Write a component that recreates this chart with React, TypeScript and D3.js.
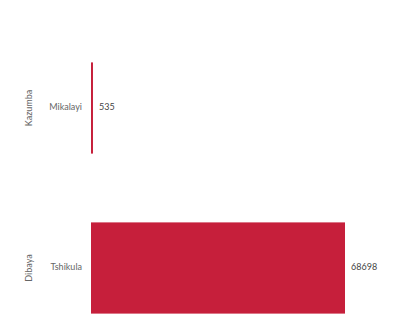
import React from "react";
import * as d3 from "d3";

const groups = ["Kazumba", "Dibaya"];
const subLabels = ["Mikalayi", "Tshikula"];
const values = [535, 68698];

const width = 401;
const height = 315;
const barColor = "#c61f3b";
const textColor = "#666";
const font = "Lato, 'Open Sans', sans-serif";

const App = () => {
  const y = d3
    .scaleBand<string>()
    .domain(groups)
    .range([28, 348])
    .paddingInner(0.43)
    .paddingOuter(0.215);

  const x = d3
    .scaleLinear()
    .domain([0, d3.max(values) as number])
    .range([91, 345]);

  return (
    <svg
      width={width}
      height={height}
      style={{ position: "absolute", left: 0, top: 0, background: "#fff" }}
    >
      {groups.map((g, i) => {
        const y0 = y(g) as number;
        const cy = y0 + y.bandwidth() / 2;
        return (
          <g key={g}>
            <rect
              x={x(0)}
              y={y0}
              width={Math.max(x(values[i]) - x(0), 1.5)}
              height={y.bandwidth()}
              fill={barColor}
            />
            <text
              transform={`translate(30,${cy}) rotate(-90)`}
              textAnchor="middle"
              dominantBaseline="middle"
              fontFamily={font}
              fontSize={9}
              fill={textColor}
            >
              {g}
            </text>
            <text
              x={82}
              y={cy}
              textAnchor="end"
              dominantBaseline="middle"
              fontFamily={font}
              fontSize={9}
              fill={textColor}
            >
              {subLabels[i]}
            </text>
            <text
              x={Math.max(x(values[i]), x(0) + 1.5) + 6}
              y={cy}
              dominantBaseline="middle"
              fontFamily={font}
              fontSize={9}
              fill="#444"
            >
              {values[i]}
            </text>
          </g>
        );
      })}
    </svg>
  );
};

export default App;
